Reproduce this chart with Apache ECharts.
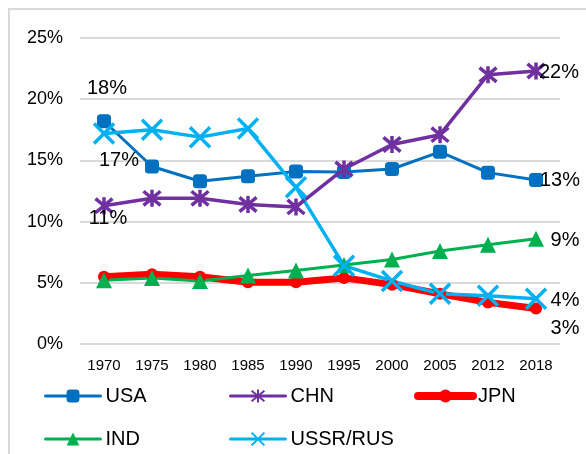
<!DOCTYPE html>
<html>
<head>
<meta charset="utf-8">
<script src="https://cdn.jsdelivr.net/npm/echarts@6/dist/echarts.min.js"></script>
<style>
html,body{margin:0;padding:0;background:#fff;}
#c{width:586px;height:454px;}
</style>
</head>
<body>
<div id="c"></div>
<script>
// ---- data ----
var years = ['1970','1975','1980','1985','1990','1995','2000','2005','2012','2018'];
var usa = [18.2, 14.5, 13.3, 13.7, 14.1, 14.05, 14.3, 15.7, 14.0, 13.4];
var chn = [11.3, 11.9, 11.9, 11.4, 11.2, 14.3, 16.3, 17.1, 22.0, 22.3];
var jpn = [5.5, 5.7, 5.5, 5.05, 5.05, 5.4, 4.85, 4.1, 3.4, 2.9];
var ind = [5.2, 5.4, 5.15, 5.6, 6.0, 6.45, 6.9, 7.6, 8.1, 8.6];
var rus = [17.2, 17.5, 16.9, 17.6, 12.8, 6.4, 5.15, 4.1, 3.95, 3.7];
var seriesNames = ['USA', 'CHN', 'JPN', 'IND', 'USSR/RUS'];
var yTicks = [0, 5, 10, 15, 20, 25];

// ---- styles ----
var FONT = "'Liberation Sans', Arial, sans-serif";
var labelSpots = {
  'USA': {0: [3, -33], 9: [24, 1]},
  'CHN': {0: [4, 13], 9: [23, 1]},
  'JPN': {9: [29, 20]},
  'IND': {9: [29, 2]},
  'USSR/RUS': {0: [15, 27], 9: [29, 2]}
};
var styles = {
  'USA': {color: '#0070C0', width: 3, symbol: 'roundRect', size: 14, border: 0, legW: 3},
  'CHN': {color: '#7030A0', width: 3.5, symbol: 'path://M0,0L10,10M10,0L0,10M5,-1L5,11', size: 17, border: 3.5, legW: 3},
  'JPN': {color: '#FF0000', width: 7, symbol: 'circle', size: 12, border: 0, legW: 8},
  'IND': {color: '#00B050', width: 3, symbol: 'triangle', size: 16, border: 0, legW: 3},
  'USSR/RUS': {color: '#00B0F0', width: 3.5, symbol: 'path://M0,0L10,10M10,0L0,10', size: 20, border: 3.5, legW: 3}
};
var values = {'USA': usa, 'CHN': chn, 'JPN': jpn, 'IND': ind, 'USSR/RUS': rus};

function buildData(name) {
  var spots = labelSpots[name] || {};
  return values[name].map(function (v, i) {
    var item = {value: v};
    if (spots[i]) {
      item.label = {
        show: true, position: 'inside', offset: spots[i],
        formatter: function (p) { return Math.round(p.value) + '%'; },
        color: '#000', fontSize: 20, fontFamily: FONT
      };
    }
    return item;
  });
}

var series = seriesNames.map(function (name) {
  var s = styles[name];
  return {
    name: name,
    type: 'line',
    data: buildData(name),
    symbol: s.symbol,
    symbolSize: s.size,
    showAllSymbol: true,
    lineStyle: {color: s.color, width: s.width, cap: 'round', join: 'round'},
    itemStyle: {color: s.color, borderColor: s.color, borderWidth: s.border},
    emphasis: {disabled: true},
    animation: false
  };
});

var legendPos = [
  {left: 44, top: 386}, {left: 229, top: 386}, {left: 414, top: 386},
  {left: 44, top: 429}, {left: 229, top: 429}
];
var legends = seriesNames.map(function (name, i) {
  return {
    data: [name],
    left: legendPos[i].left, top: legendPos[i].top,
    itemWidth: 55, itemHeight: 16, padding: 0,
    lineStyle: {width: styles[name].legW, cap: 'round'},
    textStyle: {fontSize: 20, color: '#000', fontFamily: FONT},
    selectedMode: false
  };
});

var chart = echarts.init(document.getElementById('c'), null, {renderer: 'canvas'});
chart.setOption({
  animation: false,
  backgroundColor: '#fff',
  graphic: [{
    type: 'rect', silent: true, z: -10,
    shape: {x: 9, y: 9, width: 700, height: 600},
    style: {fill: 'none', stroke: '#d9d9d9', lineWidth: 2}
  }],
  grid: {left: 80, right: 26, top: 38, bottom: 110},
  legend: legends,
  xAxis: {
    type: 'category', data: years, boundaryGap: true,
    axisLine: {show: false}, axisTick: {show: false},
    axisLabel: {fontSize: 15, color: '#000', fontFamily: FONT, margin: 14}
  },
  yAxis: {
    type: 'value', min: yTicks[0], max: yTicks[yTicks.length - 1], interval: 5,
    axisLine: {show: false}, axisTick: {show: false},
    splitLine: {lineStyle: {color: '#d9d9d9', width: 2}},
    axisLabel: {fontSize: 18, color: '#000', fontFamily: FONT, margin: 17, formatter: '{value}%'}
  },
  series: series
});
</script>
</body>
</html>
